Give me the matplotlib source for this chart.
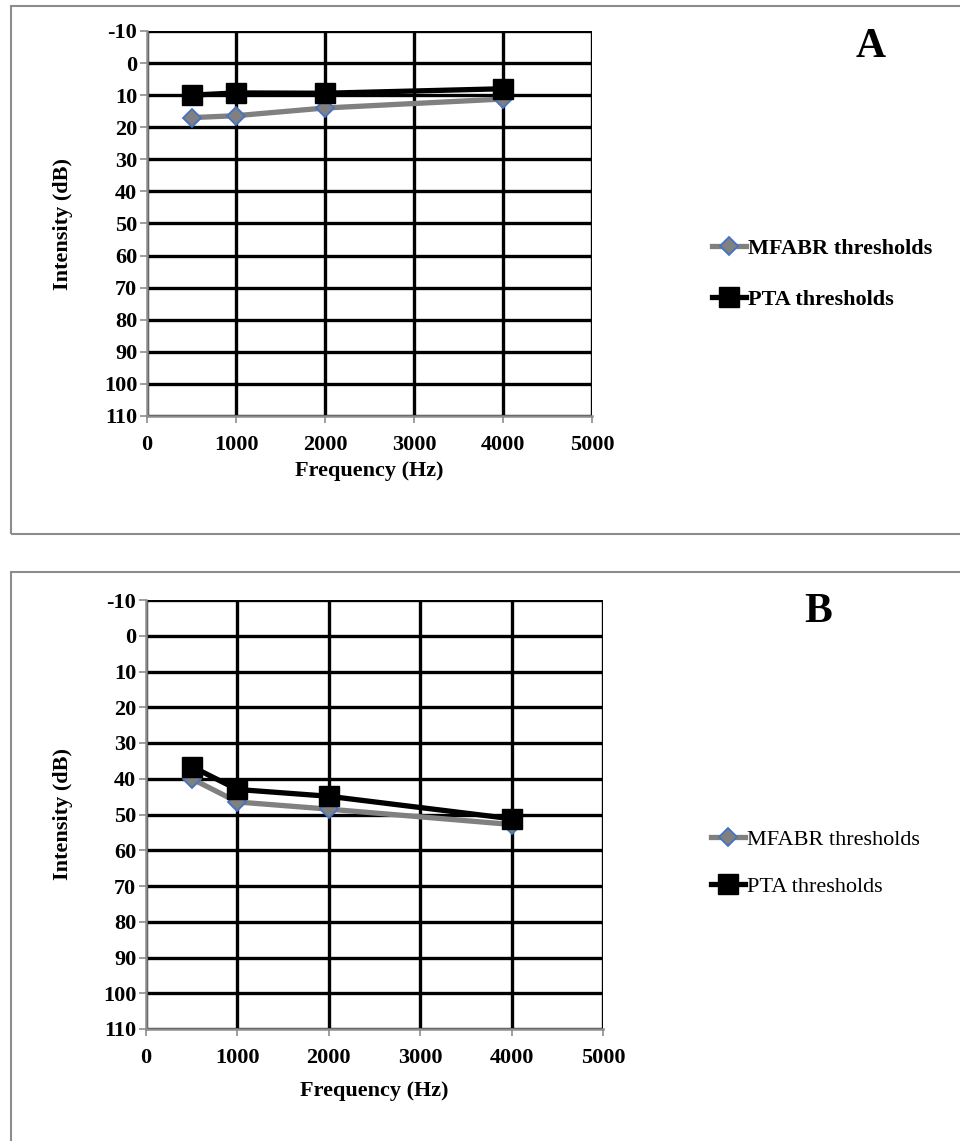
import matplotlib
matplotlib.use("Agg")
import matplotlib.pyplot as plt
from matplotlib.patches import Rectangle

freqs = [500, 1000, 2000, 4000]
mfabr_a = [17.0, 16.4, 14.0, 11.2]
pta_a = [10.0, 9.3, 9.4, 8.0]
mfabr_b = [40.0, 46.5, 48.5, 52.8]
pta_b = [36.6, 43.0, 44.9, 51.2]
xticks = [0, 1000, 2000, 3000, 4000, 5000]
yticks = list(range(-10, 111, 10))
labels = ["MFABR thresholds", "PTA thresholds"]

W, H = 960, 1141
fig = plt.figure(figsize=(W / 100, H / 100), dpi=100)
plt.rcParams['font.family'] = ['Liberation Serif', 'DejaVu Serif']
FS = 16

def fx(px):
    return px / W

def fy(py):
    return 1 - py / H

# panel borders
fig.patches.append(Rectangle((fx(10.5), fy(534)), fx(970) - fx(10.5), fy(5.5) - fy(534),
                             transform=fig.transFigure, fill=False, edgecolor='#8c8c8c', lw=1.5))
fig.patches.append(Rectangle((fx(10.5), fy(1160)), fx(970) - fx(10.5), fy(572) - fy(1160),
                             transform=fig.transFigure, fill=False, edgecolor='#8c8c8c', lw=1.5))

def panel(box, mf, pt, letter, letter_pos, leg_anchor, leg_bold, xlab_y, lspace):
    l, r, t, b = box
    ax = fig.add_axes([fx(l), fy(b), fx(r) - fx(l), fy(t) - fy(b)])
    ax.set_xlim(0, 5000)
    ax.set_ylim(110, -10)
    ax.set_xticks(xticks)
    ax.set_yticks(yticks)
    ax.set_xticklabels([str(v) for v in xticks], fontsize=FS, fontweight='bold')
    ax.set_yticklabels([str(v) for v in yticks], fontsize=FS, fontweight='bold')
    ax.grid(True, color='black', lw=2.4, zorder=1)
    ax.set_axisbelow(True)
    for s in ['top', 'right']:
        ax.spines[s].set_visible(False)
    for s in ['left', 'bottom']:
        ax.spines[s].set_color('#8c8c8c')
        ax.spines[s].set_linewidth(1.8)
        ax.spines[s].set_zorder(3)
    ax.tick_params(axis='both', direction='out', length=5, width=1.2, color='#8c8c8c')
    ax.tick_params(axis='y', pad=2)
    ax.tick_params(axis='x', pad=9)
    l1, = ax.plot(freqs, mf, color='#808080', lw=3.8, marker='D', ms=9.5,
                  mfc='#808080', mec='#4472C4', mew=1.3, zorder=4, clip_on=False)
    l2, = ax.plot(freqs, pt, color='black', lw=3.8, marker='s', ms=14.5,
                  mfc='black', mec='black', zorder=5, clip_on=False)
    ax.set_ylabel("Intensity (dB)", fontsize=FS, fontweight='bold')
    ax.set_xlabel("Frequency (Hz)", fontsize=FS, fontweight='bold')
    fig.text(letter_pos[0], letter_pos[1], letter, fontsize=30, fontweight='bold',
             ha='center', va='center')
    fig.legend([l1, l2], labels, loc='center left', bbox_to_anchor=leg_anchor,
               frameon=False, handlelength=1.55, handletextpad=0.05,
               labelspacing=lspace, borderaxespad=0, borderpad=0,
               prop={'family': 'Liberation Serif', 'size': FS,
                     'weight': 'bold' if leg_bold else 'normal'})
    ax.xaxis.set_label_coords(0.5, (fy(xlab_y) - fy(b)) / (fy(t) - fy(b)))
    ax.yaxis.set_label_coords((fx(63) - fx(l)) / (fx(r) - fx(l)), 0.5)
    ax.xaxis.label.set_va('center')
    ax.yaxis.label.set_va('center')
    return ax

panel((147, 592, 31, 416), mfabr_a, pta_a, "A", (fx(871), fy(47)),
      (fx(712), fy(274)), True, 471, 1.35)
panel((146, 603, 600, 1029), mfabr_b, pta_b, "B", (fx(818), fy(612)),
      (fx(711), fy(863)), False, 1091, 1.2)

fig.savefig("out.png", dpi=100)
